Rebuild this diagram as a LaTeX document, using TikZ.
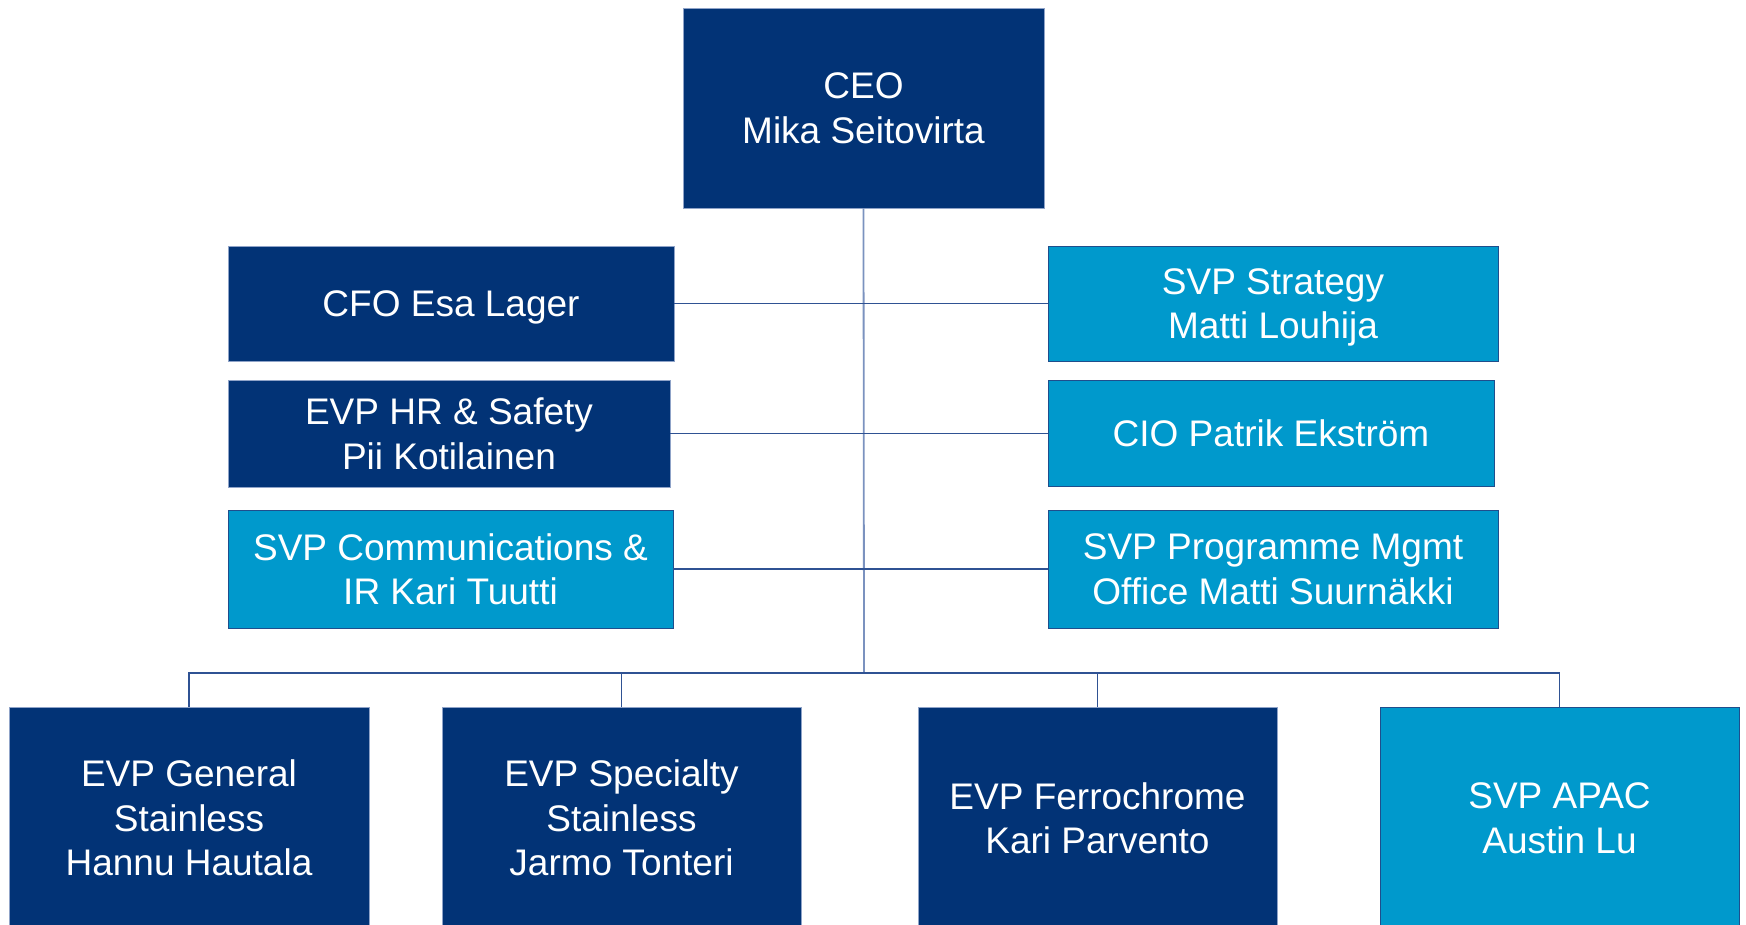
\documentclass[tikz,border=0pt]{standalone}
\usepackage{fontspec}
\setmainfont{Liberation Sans}
\definecolor{navy}{HTML}{023376}
\definecolor{cyanbox}{HTML}{0099CC}
\definecolor{cyanedge}{HTML}{1F4E8C}
\definecolor{navyedge}{HTML}{8FA3C8}
\definecolor{linedark}{HTML}{2F5293}
\definecolor{linelight}{HTML}{7B92BF}
\tikzset{
  box/.style={rectangle, inner sep=0pt, align=center, text=white,
    font=\fontsize{37}{44.5}\selectfont, line width=0.8pt, text depth=0pt},
  darkbox/.style={box, fill=navy, draw=navyedge},
  lightbox/.style={box, fill=cyanbox, draw=cyanedge},
  conn/.style={draw=linedark, line width=1.3pt},
  trunk/.style={draw=linelight, line width=1.8pt}
}
\begin{document}
\begin{tikzpicture}[x=1pt,y=1pt]
\useasboundingbox (0,0) rectangle (1746,-924);
\clip (0,0) rectangle (1746,-924);
% top
\node[darkbox, minimum width=361pt, minimum height=200pt] (ceo) at (863.5,-108) {CEO\\Mika Seitovirta};
% left column
\node[darkbox, minimum width=446pt, minimum height=115pt] (cfo) at (451,-303.5) {CFO Esa Lager};
\node[darkbox, minimum width=442pt, minimum height=107pt] (hr) at (449,-433.5) {EVP HR \& Safety\\Pii Kotilainen};
\node[lightbox, minimum width=445pt, minimum height=118pt] (comm) at (450.5,-569) {SVP Communications \&\\IR Kari Tuutti};
% right column
\node[lightbox, minimum width=450pt, minimum height=115pt] (strat) at (1273,-303.5) {SVP Strategy\\Matti Louhija};
\node[lightbox, minimum width=446pt, minimum height=106pt] (cio) at (1271,-433.5) {CIO Patrik Ekström};
\node[lightbox, minimum width=450pt, minimum height=118pt] (prog) at (1273,-569) {SVP Programme Mgmt\\Office Matti Suurnäkki};
% bottom row
\node[darkbox, minimum width=360pt, minimum height=222pt] (b1) at (189,-818) {EVP General\\Stainless\\Hannu Hautala};
\node[darkbox, minimum width=359pt, minimum height=222pt] (b2) at (621.5,-818) {EVP Specialty\\Stainless\\Jarmo Tonteri};
\node[darkbox, minimum width=359pt, minimum height=222pt] (b3) at (1097.5,-818) {EVP Ferrochrome\\Kari Parvento};
\node[lightbox, minimum width=359pt, minimum height=222pt] (b4) at (1559.5,-818) {SVP APAC\\Austin Lu};
% connectors
\coordinate (bus) at (864,-673);
\draw[trunk] (ceo.south) -- (bus);
\draw[conn] (cfo.east) -- (strat.west);
\draw[conn] (hr.east) -- (cio.west);
\draw[conn] (comm.east) -- (prog.west);
\draw[conn] (b1.north) |- (bus) -| (b4.north);
\draw[conn] (b2.north) -- (b2.north |- bus);
\draw[conn] (b3.north) -- (b3.north |- bus);
\end{tikzpicture}
\end{document}
